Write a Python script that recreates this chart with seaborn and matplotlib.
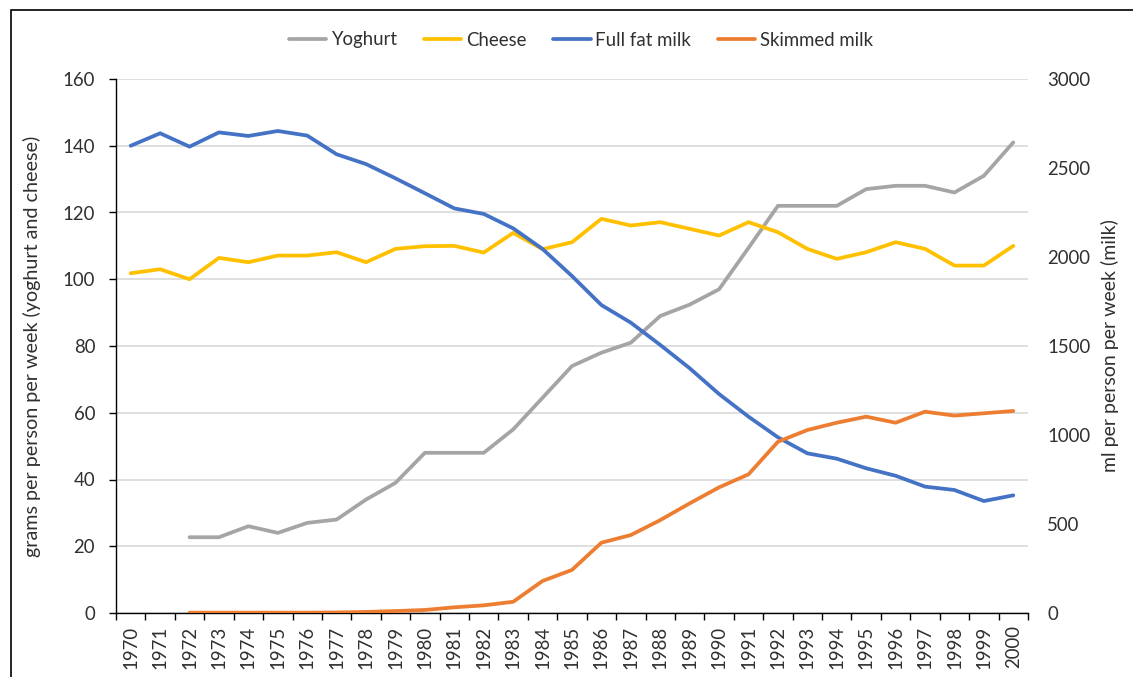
import numpy as np
import pandas as pd
import matplotlib
matplotlib.use("Agg")
import matplotlib.pyplot as plt
import seaborn as sns
from matplotlib.patches import Rectangle
from matplotlib.ticker import FixedLocator

# Weekly household consumption, 1970-2000
years = list(range(1970, 2001))
yoghurt = [np.nan, np.nan, 22.7, 22.7, 26, 24, 27, 28, 34, 39, 48, 48, 48, 55, 64.5,
           74, 78, 81, 89, 92.4, 97, 109.4, 122, 122, 122, 127, 128, 128, 126, 131, 141]
cheese = [101.8, 103, 100, 106.4, 105.1, 107.1, 107.1, 108.1, 105.1, 109.1, 109.9, 110,
          108, 113.9, 109, 111.1, 118.1, 116.1, 117.1, 115.1, 113.1, 117.1, 114.1, 109.1,
          106.1, 108.1, 111.1, 109.1, 104.1, 104.1, 110]
full_fat_milk = [2625, 2695, 2620, 2700, 2680, 2708, 2682, 2577, 2522, 2442, 2358, 2273,
                 2242, 2161, 2045, 1893, 1730, 1631, 1506, 1375, 1230, 1103, 987, 897,
                 867, 813, 771, 710, 691, 629, 661]
skimmed_milk = [np.nan, np.nan, 2, 2, 2, 2, 2, 3, 6, 11, 17, 32, 43, 63, 180, 242, 395,
                438, 522, 616, 706, 779, 962, 1028, 1069, 1103, 1069, 1131, 1109, 1122, 1135]

left_ticks = list(range(0, 161, 20))
right_ticks = list(range(0, 3001, 500))

colors = {"Yoghurt": "#A5A5A5", "Cheese": "#FFC000",
          "Full fat milk": "#4472C4", "Skimmed milk": "#ED7D31"}

sns.set_style("white")
plt.rcParams["font.family"] = ["Lato", "DejaVu Sans"]
text_color = "#303030"
tick_size = 13.4

n = len(years)
pos = np.arange(n)
left_df = pd.DataFrame({
    "pos": np.tile(pos, 2),
    "value": yoghurt + cheese,
    "series": ["Yoghurt"] * n + ["Cheese"] * n,
}).dropna()
right_df = pd.DataFrame({
    "pos": np.tile(pos, 2),
    "value": full_fat_milk + skimmed_milk,
    "series": ["Full fat milk"] * n + ["Skimmed milk"] * n,
}).dropna()

fig = plt.figure(figsize=(11.33, 6.77), dpi=100)
ax = fig.add_axes([116 / 1133, 1 - 613 / 677, 912 / 1133, 534 / 677])
ax2 = ax.twinx()

line_kw = dict(linewidth=2.7, estimator=None, legend=False,
               solid_capstyle="round", solid_joinstyle="round")
sns.lineplot(data=left_df, x="pos", y="value", hue="series",
             hue_order=["Yoghurt", "Cheese"], palette=colors, ax=ax, **line_kw)
sns.lineplot(data=right_df, x="pos", y="value", hue="series",
             hue_order=["Full fat milk", "Skimmed milk"], palette=colors, ax=ax2, **line_kw)

# Axes limits and ticks
ax.set_xlim(-0.5, n - 0.5)
ax.set_ylim(left_ticks[0], left_ticks[-1])
ax2.set_ylim(right_ticks[0], right_ticks[-1])
ax.set_yticks(left_ticks)
ax2.set_yticks(right_ticks)
ax.set_xticks(pos)
ax.set_xticklabels([str(y) for y in years], rotation=90)
ax.xaxis.set_minor_locator(FixedLocator(np.arange(-0.5, n, 1.0)))

ax.tick_params(axis="x", which="major", length=0, pad=9, labelsize=tick_size, labelcolor=text_color)
ax.tick_params(axis="x", which="minor", bottom=True, length=5, width=1, color="black", direction="out")
ax.tick_params(axis="y", left=True, length=5, width=1, color="black", direction="out",
               pad=10, labelsize=tick_size, labelcolor=text_color)
ax2.tick_params(axis="y", right=False, length=0, pad=14, labelsize=tick_size, labelcolor=text_color)

ax.set_xlabel("")
ax.set_ylabel("grams per person per week (yoghurt and cheese)", fontsize=14.2, color=text_color)
ax2.set_ylabel("ml per person per week (milk)", fontsize=14.0, color=text_color)
ax.yaxis.set_label_coords(-0.082, 0.5)
ax2.yaxis.set_label_coords(1.080, 0.5)

# Spines and gridlines
for side in ["top", "right"]:
    ax.spines[side].set_visible(False)
for side in ["left", "bottom"]:
    ax.spines[side].set_color("black")
    ax.spines[side].set_linewidth(1)
for s in ax2.spines.values():
    s.set_visible(False)
ax.yaxis.grid(True, color="#D9D9D9", linewidth=1.2)
ax.xaxis.grid(False)
ax.set_axisbelow(True)

# Shared legend across both axes
handles = ax.get_lines()[:2] + ax2.get_lines()[:2]
labels = ["Yoghurt", "Cheese", "Full fat milk", "Skimmed milk"]
fig.legend(handles, labels, loc="center", bbox_to_anchor=(581 / 1133, 1 - 40 / 677),
           ncol=4, frameon=False, handlelength=2.0, handletextpad=0.25,
           columnspacing=1.45, fontsize=tick_size, labelcolor=text_color)

# Chart frame
fig.add_artist(Rectangle((11 / 1133, -0.1), 1.2, 1.1 - 10 / 677, transform=fig.transFigure,
                         fill=False, edgecolor="black", linewidth=1.2))

fig.savefig("out.png", dpi=100)
